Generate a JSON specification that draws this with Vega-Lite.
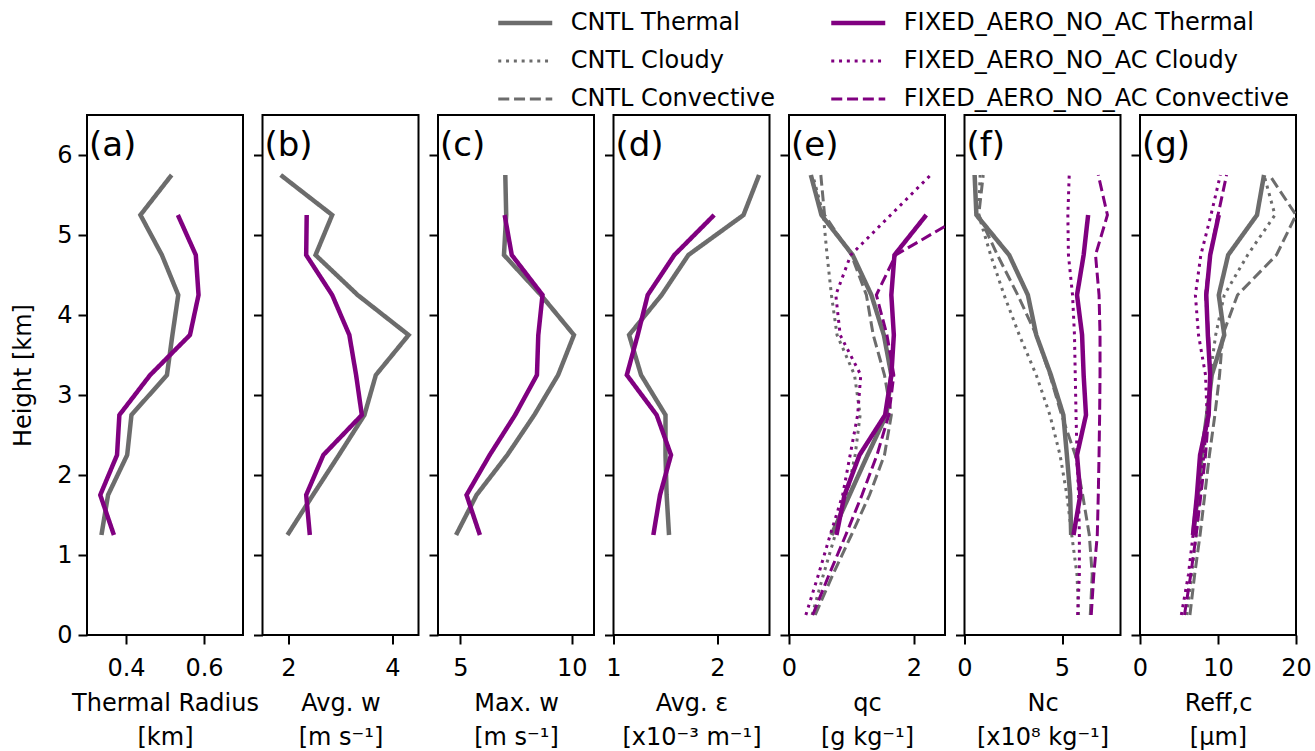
{
 "$schema": "https://vega.github.io/schema/vega-lite/v6.json",
 "background": "white",
 "padding": {"left": 10, "top": 7, "right": 5, "bottom": 5},
 "datasets": {
  "p": [
   {"p":"a","s":"CNTL Thermal","h":1.25,"v":0.337},{"p":"a","s":"CNTL Thermal","h":1.75,"v":0.354},{"p":"a","s":"CNTL Thermal","h":2.25,"v":0.403},{"p":"a","s":"CNTL Thermal","h":2.75,"v":0.414},{"p":"a","s":"CNTL Thermal","h":3.25,"v":0.505},{"p":"a","s":"CNTL Thermal","h":3.75,"v":0.519},{"p":"a","s":"CNTL Thermal","h":4.25,"v":0.534},{"p":"a","s":"CNTL Thermal","h":4.75,"v":0.492},{"p":"a","s":"CNTL Thermal","h":5.25,"v":0.437},{"p":"a","s":"CNTL Thermal","h":5.75,"v":0.517},
   {"p":"a","s":"FIXED_AERO_NO_AC Thermal","h":1.25,"v":0.369},{"p":"a","s":"FIXED_AERO_NO_AC Thermal","h":1.75,"v":0.334},{"p":"a","s":"FIXED_AERO_NO_AC Thermal","h":2.25,"v":0.377},{"p":"a","s":"FIXED_AERO_NO_AC Thermal","h":2.75,"v":0.383},{"p":"a","s":"FIXED_AERO_NO_AC Thermal","h":3.25,"v":0.462},{"p":"a","s":"FIXED_AERO_NO_AC Thermal","h":3.75,"v":0.564},{"p":"a","s":"FIXED_AERO_NO_AC Thermal","h":4.25,"v":0.586},{"p":"a","s":"FIXED_AERO_NO_AC Thermal","h":4.75,"v":0.579},{"p":"a","s":"FIXED_AERO_NO_AC Thermal","h":5.25,"v":0.533},
   {"p":"b","s":"CNTL Thermal","h":1.25,"v":1.98},{"p":"b","s":"CNTL Thermal","h":1.75,"v":2.47},{"p":"b","s":"CNTL Thermal","h":2.25,"v":2.97},{"p":"b","s":"CNTL Thermal","h":2.75,"v":3.46},{"p":"b","s":"CNTL Thermal","h":3.25,"v":3.68},{"p":"b","s":"CNTL Thermal","h":3.75,"v":4.31},{"p":"b","s":"CNTL Thermal","h":4.25,"v":3.33},{"p":"b","s":"CNTL Thermal","h":4.75,"v":2.52},{"p":"b","s":"CNTL Thermal","h":5.25,"v":2.84},{"p":"b","s":"CNTL Thermal","h":5.75,"v":1.85},
   {"p":"b","s":"FIXED_AERO_NO_AC Thermal","h":1.25,"v":2.41},{"p":"b","s":"FIXED_AERO_NO_AC Thermal","h":1.75,"v":2.34},{"p":"b","s":"FIXED_AERO_NO_AC Thermal","h":2.25,"v":2.67},{"p":"b","s":"FIXED_AERO_NO_AC Thermal","h":2.75,"v":3.41},{"p":"b","s":"FIXED_AERO_NO_AC Thermal","h":3.25,"v":3.30},{"p":"b","s":"FIXED_AERO_NO_AC Thermal","h":3.75,"v":3.17},{"p":"b","s":"FIXED_AERO_NO_AC Thermal","h":4.25,"v":2.84},{"p":"b","s":"FIXED_AERO_NO_AC Thermal","h":4.75,"v":2.34},{"p":"b","s":"FIXED_AERO_NO_AC Thermal","h":5.25,"v":2.35},
   {"p":"c","s":"CNTL Thermal","h":1.25,"v":4.81},{"p":"c","s":"CNTL Thermal","h":1.75,"v":5.73},{"p":"c","s":"CNTL Thermal","h":2.25,"v":7.11},{"p":"c","s":"CNTL Thermal","h":2.75,"v":8.32},{"p":"c","s":"CNTL Thermal","h":3.25,"v":9.39},{"p":"c","s":"CNTL Thermal","h":3.75,"v":10.10},{"p":"c","s":"CNTL Thermal","h":4.25,"v":8.62},{"p":"c","s":"CNTL Thermal","h":4.75,"v":6.96},{"p":"c","s":"CNTL Thermal","h":5.25,"v":7.06},{"p":"c","s":"CNTL Thermal","h":5.75,"v":7.02},
   {"p":"c","s":"FIXED_AERO_NO_AC Thermal","h":1.25,"v":5.88},{"p":"c","s":"FIXED_AERO_NO_AC Thermal","h":1.75,"v":5.28},{"p":"c","s":"FIXED_AERO_NO_AC Thermal","h":2.25,"v":6.32},{"p":"c","s":"FIXED_AERO_NO_AC Thermal","h":2.75,"v":7.46},{"p":"c","s":"FIXED_AERO_NO_AC Thermal","h":3.25,"v":8.44},{"p":"c","s":"FIXED_AERO_NO_AC Thermal","h":3.75,"v":8.50},{"p":"c","s":"FIXED_AERO_NO_AC Thermal","h":4.25,"v":8.69},{"p":"c","s":"FIXED_AERO_NO_AC Thermal","h":4.75,"v":7.31},{"p":"c","s":"FIXED_AERO_NO_AC Thermal","h":5.25,"v":6.99},
   {"p":"d","s":"CNTL Thermal","h":1.25,"v":1.534},{"p":"d","s":"CNTL Thermal","h":1.75,"v":1.511},{"p":"d","s":"CNTL Thermal","h":2.25,"v":1.50},{"p":"d","s":"CNTL Thermal","h":2.75,"v":1.50},{"p":"d","s":"CNTL Thermal","h":3.25,"v":1.265},{"p":"d","s":"CNTL Thermal","h":3.75,"v":1.15},{"p":"d","s":"CNTL Thermal","h":4.25,"v":1.463},{"p":"d","s":"CNTL Thermal","h":4.75,"v":1.72},{"p":"d","s":"CNTL Thermal","h":5.25,"v":2.25},{"p":"d","s":"CNTL Thermal","h":5.75,"v":2.40},
   {"p":"d","s":"FIXED_AERO_NO_AC Thermal","h":1.25,"v":1.383},{"p":"d","s":"FIXED_AERO_NO_AC Thermal","h":1.75,"v":1.447},{"p":"d","s":"FIXED_AERO_NO_AC Thermal","h":2.25,"v":1.553},{"p":"d","s":"FIXED_AERO_NO_AC Thermal","h":2.75,"v":1.415},{"p":"d","s":"FIXED_AERO_NO_AC Thermal","h":3.25,"v":1.128},{"p":"d","s":"FIXED_AERO_NO_AC Thermal","h":3.75,"v":1.233},{"p":"d","s":"FIXED_AERO_NO_AC Thermal","h":4.25,"v":1.329},{"p":"d","s":"FIXED_AERO_NO_AC Thermal","h":4.75,"v":1.585},{"p":"d","s":"FIXED_AERO_NO_AC Thermal","h":5.25,"v":1.968},
   {"p":"e","s":"CNTL Thermal","h":1.25,"v":0.68},{"p":"e","s":"CNTL Thermal","h":1.75,"v":0.97},{"p":"e","s":"CNTL Thermal","h":2.25,"v":1.26},{"p":"e","s":"CNTL Thermal","h":2.75,"v":1.56},{"p":"e","s":"CNTL Thermal","h":3.25,"v":1.64},{"p":"e","s":"CNTL Thermal","h":3.75,"v":1.52},{"p":"e","s":"CNTL Thermal","h":4.25,"v":1.32},{"p":"e","s":"CNTL Thermal","h":4.75,"v":1.02},{"p":"e","s":"CNTL Thermal","h":5.25,"v":0.52},{"p":"e","s":"CNTL Thermal","h":5.75,"v":0.35},
   {"p":"e","s":"CNTL Cloudy","h":0.25,"v":0.37},{"p":"e","s":"CNTL Cloudy","h":0.75,"v":0.55},{"p":"e","s":"CNTL Cloudy","h":1.25,"v":0.74},{"p":"e","s":"CNTL Cloudy","h":1.75,"v":0.93},{"p":"e","s":"CNTL Cloudy","h":2.25,"v":1.06},{"p":"e","s":"CNTL Cloudy","h":2.75,"v":1.14},{"p":"e","s":"CNTL Cloudy","h":3.25,"v":1.05},{"p":"e","s":"CNTL Cloudy","h":3.75,"v":0.77},{"p":"e","s":"CNTL Cloudy","h":4.25,"v":0.68},{"p":"e","s":"CNTL Cloudy","h":4.75,"v":0.61},{"p":"e","s":"CNTL Cloudy","h":5.25,"v":0.55},{"p":"e","s":"CNTL Cloudy","h":5.75,"v":0.38},
   {"p":"e","s":"CNTL Convective","h":0.25,"v":0.42},{"p":"e","s":"CNTL Convective","h":0.75,"v":0.70},{"p":"e","s":"CNTL Convective","h":1.25,"v":1.00},{"p":"e","s":"CNTL Convective","h":1.75,"v":1.29},{"p":"e","s":"CNTL Convective","h":2.25,"v":1.53},{"p":"e","s":"CNTL Convective","h":2.75,"v":1.64},{"p":"e","s":"CNTL Convective","h":3.25,"v":1.53},{"p":"e","s":"CNTL Convective","h":3.75,"v":1.35},{"p":"e","s":"CNTL Convective","h":4.25,"v":1.24},{"p":"e","s":"CNTL Convective","h":4.75,"v":1.00},{"p":"e","s":"CNTL Convective","h":5.25,"v":0.57},{"p":"e","s":"CNTL Convective","h":5.75,"v":0.51},
   {"p":"e","s":"FIXED_AERO_NO_AC Thermal","h":1.25,"v":0.76},{"p":"e","s":"FIXED_AERO_NO_AC Thermal","h":1.75,"v":0.89},{"p":"e","s":"FIXED_AERO_NO_AC Thermal","h":2.25,"v":1.13},{"p":"e","s":"FIXED_AERO_NO_AC Thermal","h":2.75,"v":1.54},{"p":"e","s":"FIXED_AERO_NO_AC Thermal","h":3.25,"v":1.64},{"p":"e","s":"FIXED_AERO_NO_AC Thermal","h":3.75,"v":1.68},{"p":"e","s":"FIXED_AERO_NO_AC Thermal","h":4.25,"v":1.64},{"p":"e","s":"FIXED_AERO_NO_AC Thermal","h":4.75,"v":1.69},{"p":"e","s":"FIXED_AERO_NO_AC Thermal","h":5.25,"v":2.20},
   {"p":"e","s":"FIXED_AERO_NO_AC Cloudy","h":0.25,"v":0.27},{"p":"e","s":"FIXED_AERO_NO_AC Cloudy","h":0.75,"v":0.47},{"p":"e","s":"FIXED_AERO_NO_AC Cloudy","h":1.25,"v":0.66},{"p":"e","s":"FIXED_AERO_NO_AC Cloudy","h":1.75,"v":0.86},{"p":"e","s":"FIXED_AERO_NO_AC Cloudy","h":2.25,"v":0.98},{"p":"e","s":"FIXED_AERO_NO_AC Cloudy","h":2.75,"v":1.10},{"p":"e","s":"FIXED_AERO_NO_AC Cloudy","h":3.25,"v":1.15},{"p":"e","s":"FIXED_AERO_NO_AC Cloudy","h":3.75,"v":0.82},{"p":"e","s":"FIXED_AERO_NO_AC Cloudy","h":4.25,"v":0.75},{"p":"e","s":"FIXED_AERO_NO_AC Cloudy","h":4.75,"v":0.99},{"p":"e","s":"FIXED_AERO_NO_AC Cloudy","h":5.25,"v":1.63},{"p":"e","s":"FIXED_AERO_NO_AC Cloudy","h":5.75,"v":2.27},
   {"p":"e","s":"FIXED_AERO_NO_AC Convective","h":0.25,"v":0.38},{"p":"e","s":"FIXED_AERO_NO_AC Convective","h":0.75,"v":0.64},{"p":"e","s":"FIXED_AERO_NO_AC Convective","h":1.25,"v":0.91},{"p":"e","s":"FIXED_AERO_NO_AC Convective","h":1.75,"v":1.17},{"p":"e","s":"FIXED_AERO_NO_AC Convective","h":2.25,"v":1.41},{"p":"e","s":"FIXED_AERO_NO_AC Convective","h":2.75,"v":1.60},{"p":"e","s":"FIXED_AERO_NO_AC Convective","h":3.25,"v":1.68},{"p":"e","s":"FIXED_AERO_NO_AC Convective","h":3.75,"v":1.57},{"p":"e","s":"FIXED_AERO_NO_AC Convective","h":4.25,"v":1.40},{"p":"e","s":"FIXED_AERO_NO_AC Convective","h":4.75,"v":1.71},{"p":"e","s":"FIXED_AERO_NO_AC Convective","h":5.25,"v":2.81},{"p":"e","s":"FIXED_AERO_NO_AC Convective","h":5.75,"v":3.30},
   {"p":"f","s":"CNTL Thermal","h":1.25,"v":5.47},{"p":"f","s":"CNTL Thermal","h":1.75,"v":5.42},{"p":"f","s":"CNTL Thermal","h":2.25,"v":5.25},{"p":"f","s":"CNTL Thermal","h":2.75,"v":5.07},{"p":"f","s":"CNTL Thermal","h":3.25,"v":4.43},{"p":"f","s":"CNTL Thermal","h":3.75,"v":3.68},{"p":"f","s":"CNTL Thermal","h":4.25,"v":3.25},{"p":"f","s":"CNTL Thermal","h":4.75,"v":2.29},{"p":"f","s":"CNTL Thermal","h":5.25,"v":0.61},{"p":"f","s":"CNTL Thermal","h":5.75,"v":0.52},
   {"p":"f","s":"CNTL Cloudy","h":0.25,"v":5.85},{"p":"f","s":"CNTL Cloudy","h":0.75,"v":5.77},{"p":"f","s":"CNTL Cloudy","h":1.25,"v":5.50},{"p":"f","s":"CNTL Cloudy","h":1.75,"v":5.25},{"p":"f","s":"CNTL Cloudy","h":2.25,"v":4.90},{"p":"f","s":"CNTL Cloudy","h":2.75,"v":4.38},{"p":"f","s":"CNTL Cloudy","h":3.25,"v":3.68},{"p":"f","s":"CNTL Cloudy","h":3.75,"v":2.81},{"p":"f","s":"CNTL Cloudy","h":4.25,"v":2.03},{"p":"f","s":"CNTL Cloudy","h":4.75,"v":1.34},{"p":"f","s":"CNTL Cloudy","h":5.25,"v":0.73},{"p":"f","s":"CNTL Cloudy","h":5.75,"v":0.80},
   {"p":"f","s":"CNTL Convective","h":0.25,"v":6.45},{"p":"f","s":"CNTL Convective","h":0.75,"v":6.55},{"p":"f","s":"CNTL Convective","h":1.25,"v":6.40},{"p":"f","s":"CNTL Convective","h":1.75,"v":6.06},{"p":"f","s":"CNTL Convective","h":2.25,"v":5.68},{"p":"f","s":"CNTL Convective","h":2.75,"v":4.98},{"p":"f","s":"CNTL Convective","h":3.25,"v":4.38},{"p":"f","s":"CNTL Convective","h":3.75,"v":3.68},{"p":"f","s":"CNTL Convective","h":4.25,"v":2.73},{"p":"f","s":"CNTL Convective","h":4.75,"v":1.69},{"p":"f","s":"CNTL Convective","h":5.25,"v":0.73},{"p":"f","s":"CNTL Convective","h":5.75,"v":0.96},
   {"p":"f","s":"FIXED_AERO_NO_AC Thermal","h":1.25,"v":5.59},{"p":"f","s":"FIXED_AERO_NO_AC Thermal","h":1.75,"v":5.94},{"p":"f","s":"FIXED_AERO_NO_AC Thermal","h":2.25,"v":5.77},{"p":"f","s":"FIXED_AERO_NO_AC Thermal","h":2.75,"v":6.23},{"p":"f","s":"FIXED_AERO_NO_AC Thermal","h":3.25,"v":6.11},{"p":"f","s":"FIXED_AERO_NO_AC Thermal","h":3.75,"v":6.03},{"p":"f","s":"FIXED_AERO_NO_AC Thermal","h":4.25,"v":5.77},{"p":"f","s":"FIXED_AERO_NO_AC Thermal","h":4.75,"v":6.11},{"p":"f","s":"FIXED_AERO_NO_AC Thermal","h":5.25,"v":6.34},
   {"p":"f","s":"FIXED_AERO_NO_AC Cloudy","h":0.25,"v":5.80},{"p":"f","s":"FIXED_AERO_NO_AC Cloudy","h":0.75,"v":5.89},{"p":"f","s":"FIXED_AERO_NO_AC Cloudy","h":1.25,"v":5.89},{"p":"f","s":"FIXED_AERO_NO_AC Cloudy","h":1.75,"v":5.85},{"p":"f","s":"FIXED_AERO_NO_AC Cloudy","h":2.25,"v":5.77},{"p":"f","s":"FIXED_AERO_NO_AC Cloudy","h":2.75,"v":5.72},{"p":"f","s":"FIXED_AERO_NO_AC Cloudy","h":3.25,"v":5.68},{"p":"f","s":"FIXED_AERO_NO_AC Cloudy","h":3.75,"v":5.64},{"p":"f","s":"FIXED_AERO_NO_AC Cloudy","h":4.25,"v":5.54},{"p":"f","s":"FIXED_AERO_NO_AC Cloudy","h":4.75,"v":5.33},{"p":"f","s":"FIXED_AERO_NO_AC Cloudy","h":5.25,"v":5.30},{"p":"f","s":"FIXED_AERO_NO_AC Cloudy","h":5.75,"v":5.37},
   {"p":"f","s":"FIXED_AERO_NO_AC Convective","h":0.25,"v":6.50},{"p":"f","s":"FIXED_AERO_NO_AC Convective","h":0.75,"v":6.63},{"p":"f","s":"FIXED_AERO_NO_AC Convective","h":1.25,"v":6.81},{"p":"f","s":"FIXED_AERO_NO_AC Convective","h":1.75,"v":6.86},{"p":"f","s":"FIXED_AERO_NO_AC Convective","h":2.25,"v":6.90},{"p":"f","s":"FIXED_AERO_NO_AC Convective","h":2.75,"v":6.93},{"p":"f","s":"FIXED_AERO_NO_AC Convective","h":3.25,"v":6.95},{"p":"f","s":"FIXED_AERO_NO_AC Convective","h":3.75,"v":6.95},{"p":"f","s":"FIXED_AERO_NO_AC Convective","h":4.25,"v":6.90},{"p":"f","s":"FIXED_AERO_NO_AC Convective","h":4.75,"v":6.72},{"p":"f","s":"FIXED_AERO_NO_AC Convective","h":5.25,"v":7.33},{"p":"f","s":"FIXED_AERO_NO_AC Convective","h":5.75,"v":6.86},
   {"p":"g","s":"CNTL Thermal","h":1.25,"v":6.8},{"p":"g","s":"CNTL Thermal","h":1.75,"v":7.4},{"p":"g","s":"CNTL Thermal","h":2.25,"v":7.9},{"p":"g","s":"CNTL Thermal","h":2.75,"v":8.6},{"p":"g","s":"CNTL Thermal","h":3.25,"v":9.2},{"p":"g","s":"CNTL Thermal","h":3.75,"v":10.8},{"p":"g","s":"CNTL Thermal","h":4.25,"v":10.1},{"p":"g","s":"CNTL Thermal","h":4.75,"v":11.3},{"p":"g","s":"CNTL Thermal","h":5.25,"v":15.0},{"p":"g","s":"CNTL Thermal","h":5.75,"v":15.9},
   {"p":"g","s":"CNTL Cloudy","h":0.25,"v":6.0},{"p":"g","s":"CNTL Cloudy","h":0.75,"v":6.6},{"p":"g","s":"CNTL Cloudy","h":1.25,"v":7.2},{"p":"g","s":"CNTL Cloudy","h":1.75,"v":7.7},{"p":"g","s":"CNTL Cloudy","h":2.25,"v":8.1},{"p":"g","s":"CNTL Cloudy","h":2.75,"v":8.6},{"p":"g","s":"CNTL Cloudy","h":3.25,"v":9.0},{"p":"g","s":"CNTL Cloudy","h":3.75,"v":9.7},{"p":"g","s":"CNTL Cloudy","h":4.25,"v":10.8},{"p":"g","s":"CNTL Cloudy","h":4.75,"v":13.8},{"p":"g","s":"CNTL Cloudy","h":5.25,"v":17.3},{"p":"g","s":"CNTL Cloudy","h":5.75,"v":15.9},
   {"p":"g","s":"CNTL Convective","h":0.25,"v":6.4},{"p":"g","s":"CNTL Convective","h":0.75,"v":7.0},{"p":"g","s":"CNTL Convective","h":1.25,"v":7.7},{"p":"g","s":"CNTL Convective","h":1.75,"v":8.3},{"p":"g","s":"CNTL Convective","h":2.25,"v":8.9},{"p":"g","s":"CNTL Convective","h":2.75,"v":9.6},{"p":"g","s":"CNTL Convective","h":3.25,"v":10.2},{"p":"g","s":"CNTL Convective","h":3.75,"v":10.6},{"p":"g","s":"CNTL Convective","h":4.25,"v":12.5},{"p":"g","s":"CNTL Convective","h":4.75,"v":17.5},{"p":"g","s":"CNTL Convective","h":5.25,"v":20.0},{"p":"g","s":"CNTL Convective","h":5.75,"v":16.6},
   {"p":"g","s":"FIXED_AERO_NO_AC Thermal","h":1.25,"v":6.8},{"p":"g","s":"FIXED_AERO_NO_AC Thermal","h":1.75,"v":7.3},{"p":"g","s":"FIXED_AERO_NO_AC Thermal","h":2.25,"v":7.7},{"p":"g","s":"FIXED_AERO_NO_AC Thermal","h":2.75,"v":8.8},{"p":"g","s":"FIXED_AERO_NO_AC Thermal","h":3.25,"v":9.0},{"p":"g","s":"FIXED_AERO_NO_AC Thermal","h":3.75,"v":8.7},{"p":"g","s":"FIXED_AERO_NO_AC Thermal","h":4.25,"v":8.5},{"p":"g","s":"FIXED_AERO_NO_AC Thermal","h":4.75,"v":9.0},{"p":"g","s":"FIXED_AERO_NO_AC Thermal","h":5.25,"v":10.1},
   {"p":"g","s":"FIXED_AERO_NO_AC Cloudy","h":0.25,"v":5.3},{"p":"g","s":"FIXED_AERO_NO_AC Cloudy","h":0.75,"v":6.2},{"p":"g","s":"FIXED_AERO_NO_AC Cloudy","h":1.25,"v":6.8},{"p":"g","s":"FIXED_AERO_NO_AC Cloudy","h":1.75,"v":7.5},{"p":"g","s":"FIXED_AERO_NO_AC Cloudy","h":2.25,"v":8.2},{"p":"g","s":"FIXED_AERO_NO_AC Cloudy","h":2.75,"v":8.6},{"p":"g","s":"FIXED_AERO_NO_AC Cloudy","h":3.25,"v":8.4},{"p":"g","s":"FIXED_AERO_NO_AC Cloudy","h":3.75,"v":7.5},{"p":"g","s":"FIXED_AERO_NO_AC Cloudy","h":4.25,"v":7.1},{"p":"g","s":"FIXED_AERO_NO_AC Cloudy","h":4.75,"v":7.8},{"p":"g","s":"FIXED_AERO_NO_AC Cloudy","h":5.25,"v":9.1},{"p":"g","s":"FIXED_AERO_NO_AC Cloudy","h":5.75,"v":10.3},
   {"p":"g","s":"FIXED_AERO_NO_AC Convective","h":0.25,"v":5.7},{"p":"g","s":"FIXED_AERO_NO_AC Convective","h":0.75,"v":6.5},{"p":"g","s":"FIXED_AERO_NO_AC Convective","h":1.25,"v":7.2},{"p":"g","s":"FIXED_AERO_NO_AC Convective","h":1.75,"v":7.8},{"p":"g","s":"FIXED_AERO_NO_AC Convective","h":2.25,"v":8.4},{"p":"g","s":"FIXED_AERO_NO_AC Convective","h":2.75,"v":8.8},{"p":"g","s":"FIXED_AERO_NO_AC Convective","h":3.25,"v":9.0},{"p":"g","s":"FIXED_AERO_NO_AC Convective","h":3.75,"v":8.8},{"p":"g","s":"FIXED_AERO_NO_AC Convective","h":4.25,"v":8.4},{"p":"g","s":"FIXED_AERO_NO_AC Convective","h":4.75,"v":9.0},{"p":"g","s":"FIXED_AERO_NO_AC Convective","h":5.25,"v":10.0},{"p":"g","s":"FIXED_AERO_NO_AC Convective","h":5.75,"v":11.1}
  ]
 },
 "spacing": 19.5,
 "bounds": "flush",
 "resolve": {"scale": {"color": "shared", "strokeDash": "shared", "strokeWidth": "shared"}, "legend": {"color": "shared", "strokeDash": "shared", "strokeWidth": "shared"}},
 "hconcat": [
  {"width": 156, "height": 520, "title": "(a)", "data": {"name": "p"}, "transform": [{"filter": "datum.p == 'a'"}],
   "mark": {"type": "line", "clip": true},
   "encoding": {
    "x": {"field": "v", "type": "quantitative", "scale": {"domain": [0.3, 0.7], "nice": false, "zero": false}, "axis": {"values": [0.4, 0.6], "format": ".1f", "title": ["Thermal Radius", "[km]"]}},
    "y": {"field": "h", "type": "quantitative", "scale": {"domain": [0, 6.5], "nice": false}, "axis": {"values": [0,1,2,3,4,5,6], "title": "Height [km]"}},
    "color": {"field": "s", "type": "nominal", "scale": {"domain": ["CNTL Thermal","CNTL Cloudy","CNTL Convective","FIXED_AERO_NO_AC Thermal","FIXED_AERO_NO_AC Cloudy","FIXED_AERO_NO_AC Convective"], "range": ["#6c6c6c","#6c6c6c","#6c6c6c","#800080","#800080","#800080"]}, "legend": {"title": null}},
    "strokeDash": {"field": "s", "type": "nominal", "scale": {"type": "ordinal", "domain": ["CNTL Thermal","CNTL Cloudy","CNTL Convective","FIXED_AERO_NO_AC Thermal","FIXED_AERO_NO_AC Cloudy","FIXED_AERO_NO_AC Convective"], "range": [[1,0],[3,4.8],[11,4.8],[1,0],[3,4.8],[11,4.8]]}, "legend": {"title": null}},
    "strokeWidth": {"field": "s", "type": "nominal", "scale": {"type": "ordinal", "domain": ["CNTL Thermal","CNTL Cloudy","CNTL Convective","FIXED_AERO_NO_AC Thermal","FIXED_AERO_NO_AC Cloudy","FIXED_AERO_NO_AC Convective"], "range": [4.5,3,3,4.5,3,3]}, "legend": {"title": null}},
    "order": {"field": "h", "type": "quantitative"}
   }},
  {"width": 156, "height": 520, "title": "(b)", "data": {"name": "p"}, "transform": [{"filter": "datum.p == 'b'"}],
   "mark": {"type": "line", "clip": true},
   "encoding": {
    "x": {"field": "v", "type": "quantitative", "scale": {"domain": [1.5, 4.5], "nice": false, "zero": false}, "axis": {"values": [2, 4], "title": ["Avg. w", "[m s⁻¹]"]}},
    "y": {"field": "h", "type": "quantitative", "scale": {"domain": [0, 6.5], "nice": false}, "axis": {"values": [0,1,2,3,4,5,6], "labels": false, "title": null}},
    "color": {"field": "s", "type": "nominal", "scale": {"domain": ["CNTL Thermal","CNTL Cloudy","CNTL Convective","FIXED_AERO_NO_AC Thermal","FIXED_AERO_NO_AC Cloudy","FIXED_AERO_NO_AC Convective"], "range": ["#6c6c6c","#6c6c6c","#6c6c6c","#800080","#800080","#800080"]}, "legend": {"title": null}},
    "strokeDash": {"field": "s", "type": "nominal", "scale": {"type": "ordinal", "domain": ["CNTL Thermal","CNTL Cloudy","CNTL Convective","FIXED_AERO_NO_AC Thermal","FIXED_AERO_NO_AC Cloudy","FIXED_AERO_NO_AC Convective"], "range": [[1,0],[3,4.8],[11,4.8],[1,0],[3,4.8],[11,4.8]]}, "legend": {"title": null}},
    "strokeWidth": {"field": "s", "type": "nominal", "scale": {"type": "ordinal", "domain": ["CNTL Thermal","CNTL Cloudy","CNTL Convective","FIXED_AERO_NO_AC Thermal","FIXED_AERO_NO_AC Cloudy","FIXED_AERO_NO_AC Convective"], "range": [4.5,3,3,4.5,3,3]}, "legend": {"title": null}},
    "order": {"field": "h", "type": "quantitative"}
   }},
  {"width": 156, "height": 520, "title": "(c)", "data": {"name": "p"}, "transform": [{"filter": "datum.p == 'c'"}],
   "mark": {"type": "line", "clip": true},
   "encoding": {
    "x": {"field": "v", "type": "quantitative", "scale": {"domain": [4, 11], "nice": false, "zero": false}, "axis": {"values": [5, 10], "title": ["Max. w", "[m s⁻¹]"]}},
    "y": {"field": "h", "type": "quantitative", "scale": {"domain": [0, 6.5], "nice": false}, "axis": {"values": [0,1,2,3,4,5,6], "labels": false, "title": null}},
    "color": {"field": "s", "type": "nominal", "scale": {"domain": ["CNTL Thermal","CNTL Cloudy","CNTL Convective","FIXED_AERO_NO_AC Thermal","FIXED_AERO_NO_AC Cloudy","FIXED_AERO_NO_AC Convective"], "range": ["#6c6c6c","#6c6c6c","#6c6c6c","#800080","#800080","#800080"]}, "legend": {"title": null}},
    "strokeDash": {"field": "s", "type": "nominal", "scale": {"type": "ordinal", "domain": ["CNTL Thermal","CNTL Cloudy","CNTL Convective","FIXED_AERO_NO_AC Thermal","FIXED_AERO_NO_AC Cloudy","FIXED_AERO_NO_AC Convective"], "range": [[1,0],[3,4.8],[11,4.8],[1,0],[3,4.8],[11,4.8]]}, "legend": {"title": null}},
    "strokeWidth": {"field": "s", "type": "nominal", "scale": {"type": "ordinal", "domain": ["CNTL Thermal","CNTL Cloudy","CNTL Convective","FIXED_AERO_NO_AC Thermal","FIXED_AERO_NO_AC Cloudy","FIXED_AERO_NO_AC Convective"], "range": [4.5,3,3,4.5,3,3]}, "legend": {"title": null}},
    "order": {"field": "h", "type": "quantitative"}
   }},
  {"width": 156, "height": 520, "title": "(d)", "data": {"name": "p"}, "transform": [{"filter": "datum.p == 'd'"}],
   "mark": {"type": "line", "clip": true},
   "encoding": {
    "x": {"field": "v", "type": "quantitative", "scale": {"domain": [1, 2.5], "nice": false, "zero": false}, "axis": {"values": [1, 2], "title": ["Avg. ε", "[x10⁻³ m⁻¹]"]}},
    "y": {"field": "h", "type": "quantitative", "scale": {"domain": [0, 6.5], "nice": false}, "axis": {"values": [0,1,2,3,4,5,6], "labels": false, "title": null}},
    "color": {"field": "s", "type": "nominal", "scale": {"domain": ["CNTL Thermal","CNTL Cloudy","CNTL Convective","FIXED_AERO_NO_AC Thermal","FIXED_AERO_NO_AC Cloudy","FIXED_AERO_NO_AC Convective"], "range": ["#6c6c6c","#6c6c6c","#6c6c6c","#800080","#800080","#800080"]}, "legend": {"title": null}},
    "strokeDash": {"field": "s", "type": "nominal", "scale": {"type": "ordinal", "domain": ["CNTL Thermal","CNTL Cloudy","CNTL Convective","FIXED_AERO_NO_AC Thermal","FIXED_AERO_NO_AC Cloudy","FIXED_AERO_NO_AC Convective"], "range": [[1,0],[3,4.8],[11,4.8],[1,0],[3,4.8],[11,4.8]]}, "legend": {"title": null}},
    "strokeWidth": {"field": "s", "type": "nominal", "scale": {"type": "ordinal", "domain": ["CNTL Thermal","CNTL Cloudy","CNTL Convective","FIXED_AERO_NO_AC Thermal","FIXED_AERO_NO_AC Cloudy","FIXED_AERO_NO_AC Convective"], "range": [4.5,3,3,4.5,3,3]}, "legend": {"title": null}},
    "order": {"field": "h", "type": "quantitative"}
   }},
  {"width": 156, "height": 520, "title": "(e)", "data": {"name": "p"}, "transform": [{"filter": "datum.p == 'e'"}],
   "mark": {"type": "line", "clip": true},
   "encoding": {
    "x": {"field": "v", "type": "quantitative", "scale": {"domain": [0, 2.5], "nice": false, "zero": false}, "axis": {"values": [0, 2], "title": ["qc", "[g kg⁻¹]"]}},
    "y": {"field": "h", "type": "quantitative", "scale": {"domain": [0, 6.5], "nice": false}, "axis": {"values": [0,1,2,3,4,5,6], "labels": false, "title": null}},
    "color": {"field": "s", "type": "nominal", "scale": {"domain": ["CNTL Thermal","CNTL Cloudy","CNTL Convective","FIXED_AERO_NO_AC Thermal","FIXED_AERO_NO_AC Cloudy","FIXED_AERO_NO_AC Convective"], "range": ["#6c6c6c","#6c6c6c","#6c6c6c","#800080","#800080","#800080"]}, "legend": {"title": null}},
    "strokeDash": {"field": "s", "type": "nominal", "scale": {"type": "ordinal", "domain": ["CNTL Thermal","CNTL Cloudy","CNTL Convective","FIXED_AERO_NO_AC Thermal","FIXED_AERO_NO_AC Cloudy","FIXED_AERO_NO_AC Convective"], "range": [[1,0],[3,4.8],[11,4.8],[1,0],[3,4.8],[11,4.8]]}, "legend": {"title": null}},
    "strokeWidth": {"field": "s", "type": "nominal", "scale": {"type": "ordinal", "domain": ["CNTL Thermal","CNTL Cloudy","CNTL Convective","FIXED_AERO_NO_AC Thermal","FIXED_AERO_NO_AC Cloudy","FIXED_AERO_NO_AC Convective"], "range": [4.5,3,3,4.5,3,3]}, "legend": {"title": null}},
    "order": {"field": "h", "type": "quantitative"}
   }},
  {"width": 156, "height": 520, "title": "(f)", "data": {"name": "p"}, "transform": [{"filter": "datum.p == 'f'"}],
   "mark": {"type": "line", "clip": true},
   "encoding": {
    "x": {"field": "v", "type": "quantitative", "scale": {"domain": [0, 8], "nice": false, "zero": false}, "axis": {"values": [0, 5], "title": ["Nc", "[x10⁸ kg⁻¹]"]}},
    "y": {"field": "h", "type": "quantitative", "scale": {"domain": [0, 6.5], "nice": false}, "axis": {"values": [0,1,2,3,4,5,6], "labels": false, "title": null}},
    "color": {"field": "s", "type": "nominal", "scale": {"domain": ["CNTL Thermal","CNTL Cloudy","CNTL Convective","FIXED_AERO_NO_AC Thermal","FIXED_AERO_NO_AC Cloudy","FIXED_AERO_NO_AC Convective"], "range": ["#6c6c6c","#6c6c6c","#6c6c6c","#800080","#800080","#800080"]}, "legend": {"title": null}},
    "strokeDash": {"field": "s", "type": "nominal", "scale": {"type": "ordinal", "domain": ["CNTL Thermal","CNTL Cloudy","CNTL Convective","FIXED_AERO_NO_AC Thermal","FIXED_AERO_NO_AC Cloudy","FIXED_AERO_NO_AC Convective"], "range": [[1,0],[3,4.8],[11,4.8],[1,0],[3,4.8],[11,4.8]]}, "legend": {"title": null}},
    "strokeWidth": {"field": "s", "type": "nominal", "scale": {"type": "ordinal", "domain": ["CNTL Thermal","CNTL Cloudy","CNTL Convective","FIXED_AERO_NO_AC Thermal","FIXED_AERO_NO_AC Cloudy","FIXED_AERO_NO_AC Convective"], "range": [4.5,3,3,4.5,3,3]}, "legend": {"title": null}},
    "order": {"field": "h", "type": "quantitative"}
   }},
  {"width": 156, "height": 520, "title": "(g)", "data": {"name": "p"}, "transform": [{"filter": "datum.p == 'g'"}],
   "mark": {"type": "line", "clip": true},
   "encoding": {
    "x": {"field": "v", "type": "quantitative", "scale": {"domain": [0, 20], "nice": false, "zero": false}, "axis": {"values": [0, 10, 20], "title": ["Reff,c", "[μm]"]}},
    "y": {"field": "h", "type": "quantitative", "scale": {"domain": [0, 6.5], "nice": false}, "axis": {"values": [0,1,2,3,4,5,6], "labels": false, "title": null}},
    "color": {"field": "s", "type": "nominal", "scale": {"domain": ["CNTL Thermal","CNTL Cloudy","CNTL Convective","FIXED_AERO_NO_AC Thermal","FIXED_AERO_NO_AC Cloudy","FIXED_AERO_NO_AC Convective"], "range": ["#6c6c6c","#6c6c6c","#6c6c6c","#800080","#800080","#800080"]}, "legend": {"title": null}},
    "strokeDash": {"field": "s", "type": "nominal", "scale": {"type": "ordinal", "domain": ["CNTL Thermal","CNTL Cloudy","CNTL Convective","FIXED_AERO_NO_AC Thermal","FIXED_AERO_NO_AC Cloudy","FIXED_AERO_NO_AC Convective"], "range": [[1,0],[3,4.8],[11,4.8],[1,0],[3,4.8],[11,4.8]]}, "legend": {"title": null}},
    "strokeWidth": {"field": "s", "type": "nominal", "scale": {"type": "ordinal", "domain": ["CNTL Thermal","CNTL Cloudy","CNTL Convective","FIXED_AERO_NO_AC Thermal","FIXED_AERO_NO_AC Cloudy","FIXED_AERO_NO_AC Convective"], "range": [4.5,3,3,4.5,3,3]}, "legend": {"title": null}},
    "order": {"field": "h", "type": "quantitative"}
   }}
 ],
 "config": {
  "font": "DejaVu Sans",
  "view": {"stroke": "black", "strokeWidth": 2},
  "axis": {"domain": false, "grid": false, "ticks": true, "tickColor": "black", "tickWidth": 2, "tickSize": 9, "labelFontSize": 24, "labelColor": "black", "titleFontSize": 24, "titleFontWeight": "normal", "titleColor": "black", "labelPadding": 6, "labelFlush": false, "labelOverlap": false},
  "axisX": {"titleLineHeight": 34, "titlePadding": 11, "labelPadding": 12},
  "axisY": {"titlePadding": 21},
  "title": {"fontSize": 34, "fontWeight": "normal", "anchor": "start", "offset": -48, "dx": 2, "color": "black", "frame": "group"},
  "legend": {"orient": "none", "legendX": 409, "legendY": -108, "columns": 2, "columnPadding": 47, "rowPadding": 11, "symbolType": "M-2,0H2", "symbolSize": 729, "symbolOffset": 13.25, "labelFontSize": 24, "labelColor": "black", "labelOffset": 29.5, "labelLimit": 400}
 }
}
